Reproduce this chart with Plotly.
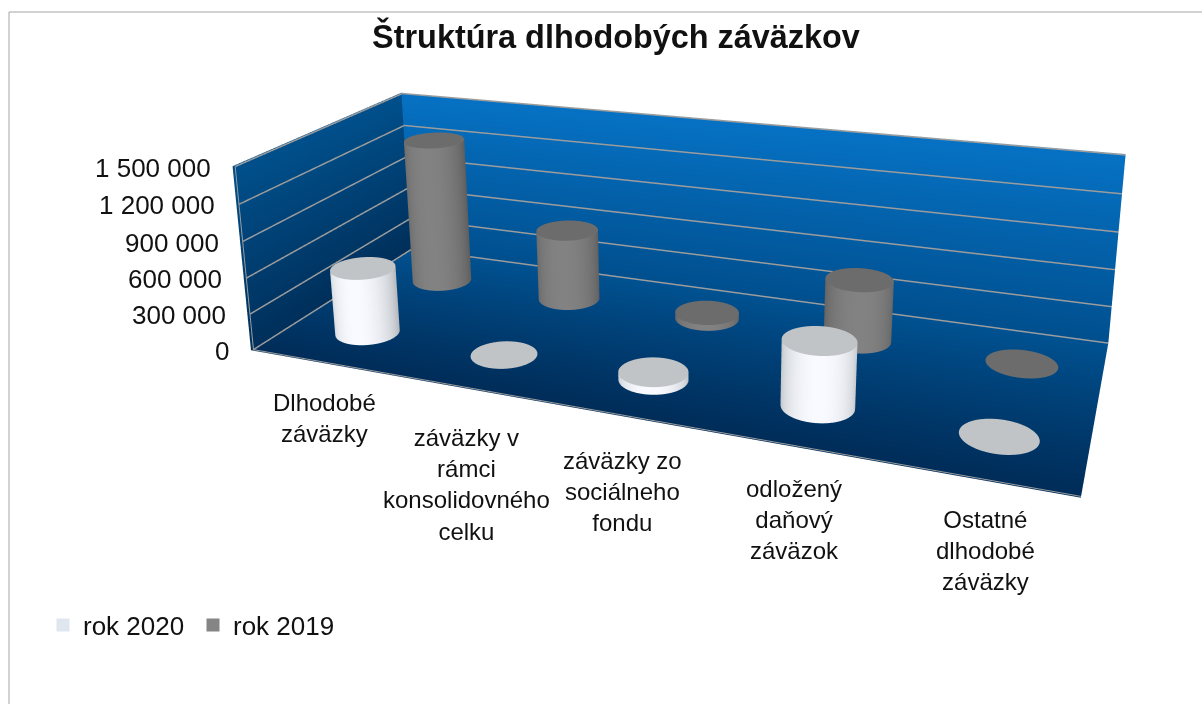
import numpy as np
import plotly.graph_objects as go

# The plot area is larger than the window and shifted, so that the scene's fixed 45 degree
# field of view gives the weaker perspective of the reference.
OFFX, OFFY = 117, 408
W, H = 1400, 1144
def px(x): return (x+OFFX)/W
def py(y): return 1-(y+OFFY)/H

TITLE = "Štruktúra dlhodobých záväzkov"
CATS = ["Dlhodobé<br>záväzky", "záväzky v<br>rámci<br>konsolidovného<br>celku",
        "záväzky zo<br>sociálneho<br>fondu", "odložený<br>daňový<br>záväzok",
        "Ostatné<br>dlhodobé<br>záväzky"]
V2020 = [550000, 0, 60000, 500000, 0]
V2019 = [1280000, 610000, 50000, 500000, 0]
TICKS = [0, 300000, 600000, 900000, 1200000, 1500000]
TICK_TEXT = ["0", "300 000", "600 000", "900 000", "1 200 000", "1 500 000"]

EYE = [1.3759, -3.7588, 1.4862]
CENTER = [-0.3031, 0.0008, 0.2641]
UP = [0.0260, 0, 1.0]
ASPECT = [2.52, 1.0194, 0.6241]

X_R=[-0.03,5.03]; Y_R=[-0.03,2.03]; Z_R=[-20000,1520000]
X_W=[-0.02,5]; Y_W=[0,2.02]; Z_W=[-9000,1500000]
ROW_2020=0.5; ROW_2019=1.5
CENTER_X=0.54
RX=0.21
RY=RX*(ASPECT[0]/5)/(ASPECT[1]/2)
LABEL_DY=[0,-10,-5,-2,0]
FLAT=dict(ambient=1,diffuse=0,specular=0,roughness=1,fresnel=0)

def surf(x,y,z,c,scale,cmin=0,cmax=1):
    return go.Surface(x=x,y=y,z=z,surfacecolor=c,colorscale=scale,cmin=cmin,cmax=cmax,showscale=False,
                      lighting=FLAT,hoverinfo="skip",showlegend=False)

fig=go.Figure()
nz=30
zz=np.linspace(Z_W[0],Z_W[1],nz); yy=np.linspace(Y_W[0],Y_W[1],nz); xx=np.linspace(X_W[0],X_W[1],nz)
X,Z=np.meshgrid(xx,zz); fig.add_trace(surf(X,np.full_like(X,Y_W[1]),Z,Z,[[0,"#004f8e"],[1,"#0672c4"]],Z_W[0],Z_W[1]))
Y,Z=np.meshgrid(yy,zz); fig.add_trace(surf(np.full_like(Y,X_W[0]),Y,Z,Z,[[0,"#002f5a"],[1,"#00508c"]],Z_W[0],Z_W[1]))
X,Y=np.meshgrid(xx,yy); fig.add_trace(surf(X,Y,np.full_like(X,Z_W[0]),Y,[[0,"#002c58"],[1,"#005292"]],Y_W[0],Y_W[1]))
GRID="#9c9c9c"
for t in TICKS:
    fig.add_trace(go.Scatter3d(x=[0,0,5],y=[0,2,2],z=[t,t,t],mode="lines",line=dict(color=GRID,width=3),hoverinfo="skip",showlegend=False))
fig.add_trace(go.Scatter3d(x=[0,0],y=[0,0],z=[0,1500000],mode="lines",line=dict(color=GRID,width=2),hoverinfo="skip",showlegend=False))
fig.add_trace(go.Scatter3d(x=[0,5],y=[0,0],z=[0,0],mode="lines",line=dict(color=GRID,width=2),hoverinfo="skip",showlegend=False))

th=np.linspace(0,2*np.pi,97)
def cyl(cx,cy,v,side,cap):
    if v>0:
        T,Zc=np.meshgrid(th,[0,v])
        fig.add_trace(surf(cx+RX*np.cos(T),cy+RY*np.sin(T),Zc,np.cos(T-np.radians(285)),side,-1,1))
    R,T=np.meshgrid([0,1],th)
    fig.add_trace(surf(cx+RX*R*np.cos(T),cy+RY*R*np.sin(T),np.full_like(R,float(v)),np.zeros_like(R),[[0,cap],[1,cap]],-1,1))
SIDE20=[[0,"#a5a9ae"],[0.5,"#b9bdc2"],[1,"#f8faff"]]
SIDE19=[[0,"#4f4f4f"],[0.5,"#5f5f5f"],[1,"#828282"]]
for i in range(5):
    cyl(i+CENTER_X,ROW_2019,V2019[i],SIDE19,"#6c6c6c")
for i in range(5):
    cyl(i+CENTER_X,ROW_2020,V2020[i],SIDE20,"#c1c4c7")
for name,col in [("rok 2020","#dfe6f0"),("rok 2019","#858585")]:
    fig.add_trace(go.Scatter3d(x=[None],y=[None],z=[None],mode="markers",name=name,marker=dict(symbol="square",size=13,color=col),hoverinfo="skip"))

ann=[]
for t,s in zip(TICKS,TICK_TEXT):
    ann.append(dict(x=0,y=0,z=t,text=s,showarrow=False,xanchor="right",yanchor="middle",xshift=-22,yshift=-1,font=dict(family="Liberation Sans",size=26,color="#111")))
for i,s in enumerate(CATS):
    ann.append(dict(x=i+CENTER_X,y=0,z=0,text=s,showarrow=False,xanchor="center",yanchor="top",yshift=-25+LABEL_DY[i],font=dict(family="Liberation Sans",size=24,color="#111")))
hid=dict(visible=False,showspikes=False)
fig.update_layout(width=W,height=H,margin=dict(l=0,r=0,t=0,b=0),paper_bgcolor="white",
    title=dict(text=TITLE,x=px(616),y=py(37),xanchor="center",yanchor="middle",font=dict(family="Liberation Sans",size=32.4,color="#111",weight="bold")),
    legend=dict(orientation="h",x=px(43),y=py(625),xanchor="left",yanchor="middle",entrywidth=105,entrywidthmode="pixels",font=dict(family="Liberation Sans",size=26,color="#111"),bgcolor="rgba(0,0,0,0)"),
    scene=dict(domain=dict(x=[0,1],y=[0,1]),aspectmode="manual",aspectratio=dict(x=ASPECT[0],y=ASPECT[1],z=ASPECT[2]),dragmode="orbit",
        xaxis=dict(range=X_R,**hid),yaxis=dict(range=Y_R,**hid),zaxis=dict(range=Z_R,**hid),
        camera=dict(eye=dict(x=EYE[0],y=EYE[1],z=EYE[2]),center=dict(x=CENTER[0],y=CENTER[1],z=CENTER[2]),up=dict(x=UP[0],y=UP[1],z=UP[2]),projection=dict(type="perspective")),
        annotations=ann,hovermode=False),
    shapes=[dict(type="path",xref="paper",yref="paper",path=f"M {px(9)},{py(704)} L {px(9)},{py(12)} L {px(1202)},{py(12)}",line=dict(color="#a6a6a6",width=1))])
post=f"""document.documentElement.style.overflow='hidden';document.body.style.overflow='hidden';document.body.style.margin='0';
var g=document.getElementById('{{plot_id}}');g.style.position='absolute';g.style.left='-{OFFX}px';g.style.top='-{OFFY}px';"""
fig.write_html("out.html",config=dict(displayModeBar=False),post_script=post)
